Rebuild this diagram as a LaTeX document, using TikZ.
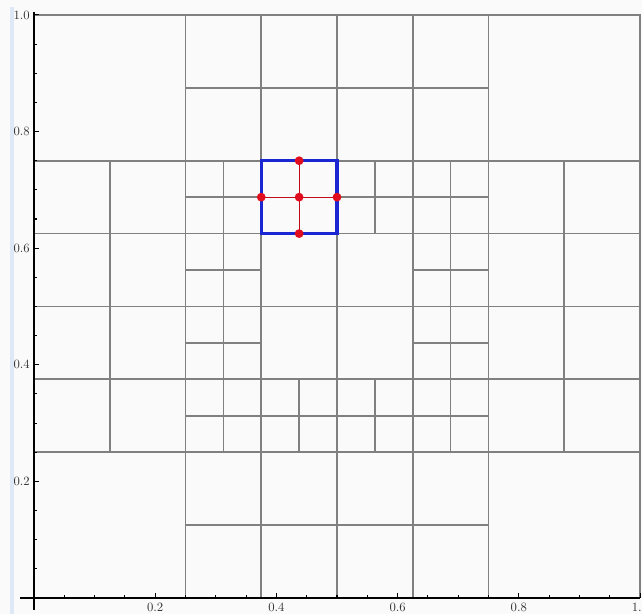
\documentclass[tikz,border=0pt]{standalone}
\usetikzlibrary{calc}
\definecolor{MeshClr}{rgb}{0.5,0.5,0.5}
\definecolor{CellClr}{rgb}{0.1,0.15,0.82}
\definecolor{RefClr}{rgb}{0.88,0.05,0.12}
\definecolor{BackClr}{rgb}{0.98,0.98,0.98}
\definecolor{StripClr}{rgb}{0.87,0.91,0.97}

\begin{document}
\begin{tikzpicture}[x=454.5pt,y=437.25pt,
  mesh/.style={line width=1.3pt,color=MeshClr},
  axis/.style={line width=0.8pt,color=black},
  ticklabel/.style={font=\fontsize{9.5}{10}\selectfont,text=black!80,inner sep=1pt}]

\useasboundingbox[fill=BackClr] (-0.0561,-0.0274) rectangle (1.0033,1.0257);
\fill[StripClr] (-0.0396,-0.0274) rectangle (-0.0330,1.0137);

% coarse cells
\draw[mesh] (0,1) -- (1,1) -- (1,0);
\foreach \t in {0.25,0.375,0.5,0.625,0.75}{
  \draw[mesh] (\t,0) -- (\t,1);
  \draw[mesh] (0,\t) -- (1,\t);
}
\draw[mesh] (0.25,0.875) -- (0.75,0.875) (0.25,0.125) -- (0.75,0.125);
\draw[mesh] (0.125,0.25) -- (0.125,0.75) (0.875,0.25) -- (0.875,0.75);

% fine cells round the centre
\foreach \i/\j in {0/0,1/0,2/0,3/0,0/1,3/1,0/2,3/2,0/3,2/3,3/3}{
  \draw[mesh] ({0.3125+0.125*\i},{0.25+0.125*\j}) -- ++(0,0.125)
              ({0.25+0.125*\i},{0.3125+0.125*\j}) -- ++(0.125,0);
}

% refined cell
\coordinate (SW) at (0.375,0.625);
\coordinate (NE) at (0.5,0.75);
\coordinate (N) at (0.4375,0.75);
\coordinate (S) at (0.4375,0.625);
\coordinate (W) at (0.375,0.6875);
\coordinate (E) at (0.5,0.6875);
\coordinate (M) at (0.4375,0.6875);
\draw[line width=0.8pt,color=RefClr!85!black] (N) -- (S) (W) -- (E);
\draw[line width=2.4pt,color=CellClr] (SW) rectangle (NE);
\foreach \p in {N,S,W,E,M}
  \fill[RefClr] (\p) circle[radius=3.3pt];

% axes
\draw[axis] (-0.0231,0) -- (1,0);
\draw[axis] (0,-0.0206) -- (0,1.005);
\foreach \k in {1,...,20}{
  \pgfmathparse{mod(\k,4)==0 ? 3.75 : 2.25}\let\tl\pgfmathresult
  \draw[axis] (\k*0.05,0) -- ++(0,\tl pt);
  \draw[axis] (0,\k*0.05) -- ++(\tl pt,0);
}
\foreach \v [count=\n] in {0.2,0.4,0.6,0.8}{
  \node[ticklabel,below=2.5pt] (xlab\n) at (\v,0) {\v};
}
\node[ticklabel,anchor=north east,inner sep=0pt] (xlab5) at ([yshift=-3.5pt]1.0033,0) {1.};
\foreach \v [count=\n] in {0.2,0.4,0.6,0.8,1.0}{
  \node[ticklabel,left=2pt] (ylab\n) at (0,\v) {\v};
}

\end{tikzpicture}
\end{document}
